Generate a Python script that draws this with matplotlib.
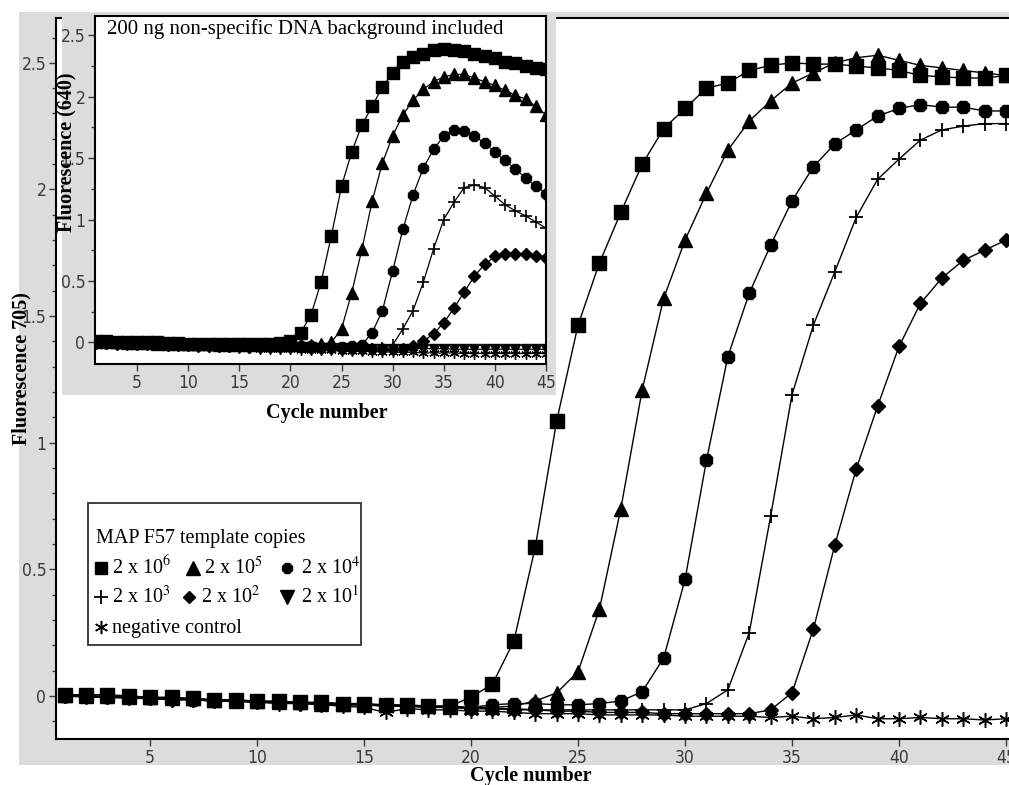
import matplotlib
matplotlib.use('Agg')
import matplotlib.pyplot as plt
from matplotlib.lines import Line2D
from matplotlib.patches import Rectangle
from matplotlib import font_manager as fm
import numpy as np

# ---------------- data ----------------
cycles = list(range(1, 46))

# main plot (Fluorescence 705)
main_sq = [0.005, 0.005, 0.005, 0.0, -0.005, -0.005, -0.01, -0.015, -0.015, -0.02,
           -0.02, -0.025, -0.025, -0.03, -0.03, -0.035, -0.035, -0.04, -0.04, -0.005,
           0.047, 0.217, 0.588, 1.086, 1.465, 1.71, 1.91, 2.10, 2.24, 2.32,
           2.40, 2.42, 2.47, 2.49, 2.50, 2.495, 2.495, 2.487, 2.48, 2.47,
           2.45, 2.445, 2.44, 2.44, 2.45]
main_tu = [0.005, 0.0, 0.0, -0.005, -0.005, -0.01, -0.01, -0.015, -0.02, -0.02,
           -0.025, -0.025, -0.03, -0.03, -0.035, -0.035, -0.04, -0.04, -0.045, -0.045,
           -0.045, -0.04, -0.02, 0.012, 0.096, 0.343, 0.74, 1.21, 1.57, 1.80,
           1.985, 2.155, 2.27, 2.35, 2.42, 2.46, 2.50, 2.52, 2.53, 2.51,
           2.49, 2.48, 2.47, 2.46, 2.45]
main_hx = [0.0, 0.0, -0.005, -0.005, -0.01, -0.01, -0.015, -0.015, -0.02, -0.02,
           -0.025, -0.025, -0.03, -0.03, -0.035, -0.035, -0.04, -0.04, -0.04, -0.045,
           -0.035, -0.03, -0.03, -0.035, -0.035, -0.03, -0.02, 0.017, 0.15, 0.46,
           0.93, 1.34, 1.59, 1.78, 1.955, 2.09, 2.18, 2.235, 2.29, 2.32,
           2.335, 2.325, 2.325, 2.31, 2.31]
main_pl = [0.0, 0.0, -0.005, -0.005, -0.01, -0.015, -0.015, -0.02, -0.02, -0.025,
           -0.025, -0.03, -0.03, -0.035, -0.035, -0.04, -0.04, -0.045, -0.045, -0.05,
           -0.05, -0.05, -0.055, -0.055, -0.055, -0.055, -0.055, -0.055, -0.055, -0.055,
           -0.03, 0.024, 0.25, 0.71, 1.19, 1.465, 1.675, 1.89, 2.04, 2.12,
           2.195, 2.235, 2.25, 2.26, 2.26]
main_dm = [0.0, -0.005, -0.005, -0.01, -0.01, -0.015, -0.015, -0.02, -0.02, -0.025,
           -0.025, -0.03, -0.03, -0.035, -0.035, -0.04, -0.04, -0.045, -0.045, -0.05,
           -0.05, -0.055, -0.055, -0.06, -0.06, -0.065, -0.065, -0.065, -0.07, -0.07,
           -0.07, -0.07, -0.07, -0.055, 0.013, 0.265, 0.596, 0.896, 1.145, 1.38,
           1.55, 1.65, 1.72, 1.76, 1.80]
main_neg = [0.0, 0.0, -0.005, -0.005, -0.01, -0.01, -0.015, -0.02, -0.02, -0.025,
            -0.03, -0.03, -0.035, -0.04, -0.045, -0.065, -0.05, -0.055, -0.055, -0.06,
            -0.06, -0.065, -0.07, -0.07, -0.07, -0.075, -0.075, -0.075, -0.075, -0.08,
            -0.08, -0.08, -0.08, -0.085, -0.08, -0.09, -0.085, -0.075, -0.09, -0.09,
            -0.085, -0.09, -0.09, -0.095, -0.09]

# inset (Fluorescence 640, 200 ng background DNA)
in_sq = [0.01, 0.01, 0.005, 0.005, 0.0, 0.0, 0.0, -0.005, -0.005, -0.01,
         -0.01, -0.01, -0.015, -0.015, -0.015, -0.015, -0.015, -0.01, -0.005, 0.01,
         0.08, 0.22, 0.49, 0.865, 1.27, 1.55, 1.77, 1.92, 2.08, 2.19,
         2.28, 2.32, 2.35, 2.38, 2.39, 2.38, 2.37, 2.35, 2.33, 2.31,
         2.28, 2.27, 2.25, 2.23, 2.22]
in_tu = [0.0, 0.0, 0.0, -0.005, -0.005, -0.005, -0.01, -0.01, -0.01, -0.015,
         -0.015, -0.015, -0.02, -0.02, -0.02, -0.02, -0.02, -0.02, -0.02, -0.02,
         -0.02, -0.02, -0.015, 0.0, 0.11, 0.405, 0.76, 1.15, 1.46, 1.68,
         1.85, 1.97, 2.06, 2.12, 2.16, 2.18, 2.18, 2.15, 2.12, 2.09,
         2.05, 2.01, 1.98, 1.92, 1.85]
in_hx = [0.0, -0.005, -0.005, -0.005, -0.01, -0.01, -0.01, -0.015, -0.015, -0.015,
         -0.02, -0.02, -0.02, -0.025, -0.025, -0.025, -0.03, -0.03, -0.03, -0.03,
         -0.03, -0.03, -0.035, -0.035, -0.035, -0.03, -0.02, 0.08, 0.26, 0.58,
         0.92, 1.20, 1.42, 1.57, 1.68, 1.73, 1.72, 1.68, 1.62, 1.55,
         1.48, 1.41, 1.34, 1.27, 1.21]
in_pl = [0.0, -0.005, -0.005, -0.01, -0.01, -0.01, -0.015, -0.015, -0.02, -0.02,
         -0.02, -0.025, -0.025, -0.03, -0.03, -0.03, -0.035, -0.035, -0.035, -0.04,
         -0.04, -0.04, -0.045, -0.045, -0.045, -0.045, -0.05, -0.05, -0.045, -0.02,
         0.11, 0.26, 0.49, 0.76, 1.0, 1.14, 1.26, 1.28, 1.26, 1.19,
         1.12, 1.07, 1.03, 0.98, 0.93]
in_dm = [-0.005, -0.005, -0.01, -0.01, -0.01, -0.015, -0.015, -0.02, -0.02, -0.02,
         -0.025, -0.025, -0.03, -0.03, -0.03, -0.035, -0.035, -0.035, -0.04, -0.04,
         -0.04, -0.045, -0.045, -0.045, -0.05, -0.05, -0.05, -0.05, -0.055, -0.055,
         -0.05, -0.03, 0.01, 0.07, 0.16, 0.28, 0.41, 0.54, 0.635, 0.70,
         0.72, 0.72, 0.72, 0.70, 0.69]
in_td = [0.0, -0.005, -0.005, -0.01, -0.01, -0.015, -0.015, -0.02, -0.02, -0.02,
         -0.025, -0.025, -0.03, -0.03, -0.03, -0.035, -0.035, -0.035, -0.04, -0.04,
         -0.04, -0.04, -0.045, -0.045, -0.045, -0.045, -0.05, -0.05, -0.05, -0.05,
         -0.05, -0.05, -0.05, -0.05, -0.05, -0.055, -0.055, -0.055, -0.055, -0.055,
         -0.055, -0.055, -0.055, -0.055, -0.055]
in_neg = [0.0, -0.005, -0.01, -0.01, -0.015, -0.015, -0.02, -0.025, -0.025, -0.03,
          -0.03, -0.035, -0.04, -0.04, -0.045, -0.045, -0.05, -0.05, -0.055, -0.055,
          -0.06, -0.06, -0.065, -0.065, -0.07, -0.07, -0.07, -0.075, -0.075, -0.08,
          -0.08, -0.08, -0.085, -0.085, -0.085, -0.085, -0.09, -0.09, -0.09, -0.09,
          -0.09, -0.09, -0.09, -0.09, -0.09]

legend_title = 'MAP F57 template copies'
legend_labels = ['2 x 10$^{6}$', '2 x 10$^{5}$', '2 x 10$^{4}$',
                 '2 x 10$^{3}$', '2 x 10$^{2}$', '2 x 10$^{1}$', 'negative control']
main_ticks_x = [5, 10, 15, 20, 25, 30, 35, 40, 45]
main_ticks_y = [0, 0.5, 1, 1.5, 2, 2.5]
main_ticklabels_y = ['0', '0.5', '1', '1.5', '2', '2.5']

# ---------------- style ----------------
plt.rcParams['font.family'] = ['Liberation Serif', 'DejaVu Serif']
plt.rcParams['mathtext.fontset'] = 'stix'
names = {f.name for f in fm.fontManager.ttflist}
if 'Liberation Sans Narrow' in names:
    TICKFONT = dict(family='Liberation Sans Narrow')
else:
    TICKFONT = dict(family='DejaVu Sans', stretch='condensed')
TICKCOLOR = '#3a3a3a'
GRAY = '#dcdcdc'
LABEL_FS = 14.5

W, H = 1009, 785
fig = plt.figure(figsize=(W / 100, H / 100), dpi=100)
fig.patch.set_facecolor('white')


def fx(px):
    return px / W


def fy(py):
    return 1 - py / H


# outer gray panel
fig.add_artist(Rectangle((fx(19), fy(765)), 1 - fx(19), fy(12) - fy(765),
                         transform=fig.transFigure, facecolor=GRAY,
                         edgecolor='none', zorder=-5))

# ---------------- main axes ----------------
ax = fig.add_axes([fx(56), fy(739), fx(1009) - fx(56), fy(18) - fy(739)])
ax.set_zorder(0)
ax.set_facecolor('white')
ax.set_xlim(0.6, 45.14)
ax.set_ylim(-0.17, 2.677)

styles_main = [
    (main_neg, dict(marker=(6, 2, 0), ms=10.5, mew=1.1)),
    (main_dm, dict(marker='D', ms=7.5)),
    (main_pl, dict(marker='+', ms=10, mew=1.3)),
    (main_hx, dict(marker='8', ms=9.5)),
    (main_tu, dict(marker='^', ms=10.5)),
    (main_sq, dict(marker='s', ms=10.5)),
]
for vals, st in styles_main:
    ax.plot(cycles, vals, color='black', lw=1.0, mfc='black', mec='black', **st)

for s in ['left', 'bottom', 'top']:
    ax.spines[s].set_linewidth(1.5)
ax.spines['right'].set_visible(False)
ax.set_xticks(main_ticks_x)
ax.set_xticklabels([str(t) for t in main_ticks_x])
ax.set_yticks(main_ticks_y)
ax.set_yticklabels(main_ticklabels_y)
ax.set_yticks(np.arange(-0.1, 2.65, 0.1), minor=True)
ax.tick_params(axis='both', which='major', direction='out', length=5, width=1,
               colors=TICKCOLOR, labelsize=12.5, pad=2)
ax.tick_params(axis='y', which='minor', direction='out', length=3, width=1, colors=TICKCOLOR)
for lab in ax.get_xticklabels() + ax.get_yticklabels():
    lab.set(**TICKFONT)

# ---------------- legend (drawn as a box with entries) ----------------
leg_box = Rectangle((fx(88), fy(645)), fx(361) - fx(88), fy(503) - fy(645),
                    transform=fig.transFigure, facecolor='white',
                    edgecolor='#333333', lw=1.3, zorder=1.5)
fig.add_artist(leg_box)
clip_box = Rectangle((fx(89), fy(644)), fx(360) - fx(89), fy(504) - fy(644),
                     transform=fig.transFigure, facecolor='none', edgecolor='none')
fig.text(fx(96), fy(539), legend_title, ha='left', va='center', fontsize=14.5, zorder=1.6)

leg_entries = [
    # (marker kwargs, marker x, text x, row y, label)
    (dict(marker='s', ms=9), 101, 112, 568, legend_labels[0]),
    (dict(marker='^', ms=9.5), 193, 204, 568, legend_labels[1]),
    (dict(marker='8', ms=8.5), 287, 301, 568, legend_labels[2]),
    (dict(marker='+', ms=10, mew=1.3), 101, 112, 597, legend_labels[3]),
    (dict(marker='D', ms=6.5), 189, 201, 597, legend_labels[4]),
    (dict(marker='v', ms=9.5), 287, 301, 597, legend_labels[5]),
    (dict(marker=(6, 2, 0), ms=9.5, mew=1.1), 101, 112, 627, legend_labels[6]),
]
for mk, mx, tx, ry, lab in leg_entries:
    fig.add_artist(Line2D([fx(mx)], [fy(ry)], transform=fig.transFigure, ls='none',
                          color='black', mfc='black', mec='black', zorder=1.6, **mk))
    t = fig.text(fx(tx), fy(ry + 6), lab, ha='left', va='baseline', fontsize=14.5, zorder=1.6)
    t.set_clip_path(clip_box)

# ---------------- inset gray panel + inset axes ----------------
fig.add_artist(Rectangle((fx(62), fy(395)), fx(556) - fx(62), fy(12) - fy(395),
                         transform=fig.transFigure, facecolor=GRAY,
                         edgecolor='none', zorder=1))

axi = fig.add_axes([fx(95), fy(364), fx(546) - fx(95), fy(16) - fy(364)])
axi.set_zorder(2)
axi.set_facecolor('white')
axi.set_xlim(0.89, 45)
axi.set_ylim(-0.175, 2.655)

styles_in = [
    (in_neg, dict(marker=(6, 2, 0), ms=7.5, mew=1.0)),
    (in_td, dict(marker='v', ms=7.5)),
    (in_dm, dict(marker='D', ms=6)),
    (in_pl, dict(marker='+', ms=8.5, mew=1.2)),
    (in_hx, dict(marker='8', ms=8)),
    (in_tu, dict(marker='^', ms=8.5)),
    (in_sq, dict(marker='s', ms=8.5)),
]
for vals, st in styles_in:
    axi.plot(cycles, vals, color='black', lw=0.9, mfc='black', mec='black', **st)

for s in axi.spines.values():
    s.set_linewidth(1.5)
axi.set_xticks(main_ticks_x)
axi.set_xticklabels([str(t) for t in main_ticks_x])
axi.set_yticks(main_ticks_y)
axi.set_yticklabels(main_ticklabels_y)
axi.set_yticks(np.arange(0.25, 2.6, 0.5), minor=True)
axi.tick_params(axis='both', which='major', direction='out', length=5, width=1,
                colors=TICKCOLOR, labelsize=12.5, pad=2)
axi.tick_params(axis='y', which='minor', direction='out', length=3, width=1, colors=TICKCOLOR)
for lab in axi.get_xticklabels() + axi.get_yticklabels():
    lab.set(**TICKFONT)

axi.text(0.027, 0.962, '200 ng non-specific DNA background included',
         transform=axi.transAxes, ha='left', va='center', fontsize=15)

# ---------------- axis labels ----------------
fig.text(fx(66), fy(152), 'Fluorescence (640)', rotation=90, ha='center', va='center',
         fontweight='bold', fontsize=LABEL_FS, zorder=5)
fig.text(fx(327), fy(413), 'Cycle number', ha='center', va='center',
         fontweight='bold', fontsize=LABEL_FS, zorder=5)
fig.text(fx(21), fy(369), 'Fluorescence 705)', rotation=90, ha='center', va='center',
         fontweight='bold', fontsize=LABEL_FS, zorder=5)
fig.text(fx(531), fy(776), 'Cycle number', ha='center', va='center',
         fontweight='bold', fontsize=LABEL_FS, zorder=5)

fig.savefig('out.png', dpi=100, facecolor=fig.get_facecolor())
